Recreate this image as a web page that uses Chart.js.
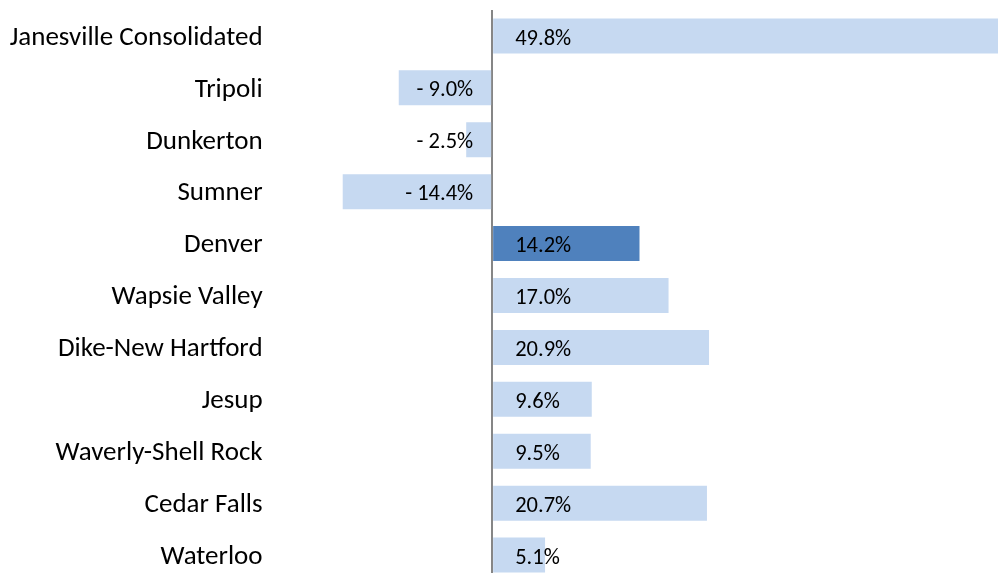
<!DOCTYPE html>
<html>
<head>
<meta charset="utf-8">
<script src="https://cdn.jsdelivr.net/npm/chart.js@4/dist/chart.umd.min.js"></script>
<style>
  html, body { margin: 0; padding: 0; background: #fff; overflow: hidden; }
  #chart { display: block; }
</style>
</head>
<body>
<canvas id="chart" width="1011" height="581"></canvas>
<script>
/* ---- Daten ---- */
const districts = [
  'Janesville Consolidated', 'Tripoli', 'Dunkerton', 'Sumner', 'Denver',
  'Wapsie Valley', 'Dike-New Hartford', 'Jesup', 'Waverly-Shell Rock',
  'Cedar Falls', 'Waterloo'
];
const changePct = [49.8, -9.0, -2.5, -14.4, 14.2, 17.0, 20.9, 9.6, 9.5, 20.7, 5.1];
const highlighted = 'Denver';
const axisMin = -20;
const axisMax = 50;

const FONT = "Calibri, Carlito, Lato, sans-serif";
const LIGHT = '#c6d9f1';
const DARK = '#4f81bd';

/* ---- Wertebeschriftung in den Balken ---- */
const valueLabels = {
  id: 'valueLabels',
  afterDatasetsDraw(chart) {
    const ctx = chart.ctx;
    const meta = chart.getDatasetMeta(0);
    ctx.save();
    ctx.font = '22.5px ' + FONT;
    ctx.fillStyle = '#000';
    ctx.textBaseline = 'middle';
    meta.data.forEach((bar, i) => {
      const v = changePct[i];
      const txt = v < 0 ? '- ' + Math.abs(v).toFixed(1) + '%' : v.toFixed(1) + '%';
      if (v < 0) {
        ctx.textAlign = 'right';
        ctx.fillText(txt, bar.base - 18, bar.y + 3);
      } else {
        ctx.textAlign = 'left';
        ctx.fillText(txt, bar.base + 22, bar.y + 3);
      }
    });
    ctx.restore();
  }
};

new Chart(document.getElementById('chart'), {
  type: 'bar',
  data: {
    labels: districts,
    datasets: [{
      data: changePct,
      backgroundColor: districts.map(d => d === highlighted ? DARK : LIGHT),
      borderWidth: 0,
      barPercentage: 0.674,
      categoryPercentage: 1
    }]
  },
  options: {
    indexAxis: 'y',
    responsive: false,
    animation: false,
    layout: { padding: { top: 10, right: 0, bottom: 0, left: 0 } },
    plugins: { legend: { display: false }, tooltip: { enabled: false } },
    scales: {
      x: {
        min: axisMin, max: axisMax,
        ticks: { display: false, stepSize: 10 },
        border: { display: false },
        grid: {
          drawTicks: false,
          lineWidth: 2,
          color: c => c.tick && c.tick.value === 0 ? '#868686' : 'rgba(0,0,0,0)'
        },
        afterFit: s => { s.height = 0; s.paddingLeft = 0; s.paddingRight = 0; }
      },
      y: {
        border: { display: false },
        grid: { display: false, drawTicks: false },
        ticks: {
          color: '#000',
          padding: 22,
          labelOffset: 2,
          font: { family: FONT, size: 27 }
        },
        afterFit: s => { s.width = 284.6; s.paddingTop = 0; s.paddingBottom = 0; }
      }
    }
  },
  plugins: [valueLabels]
});
</script>
</body>
</html>
